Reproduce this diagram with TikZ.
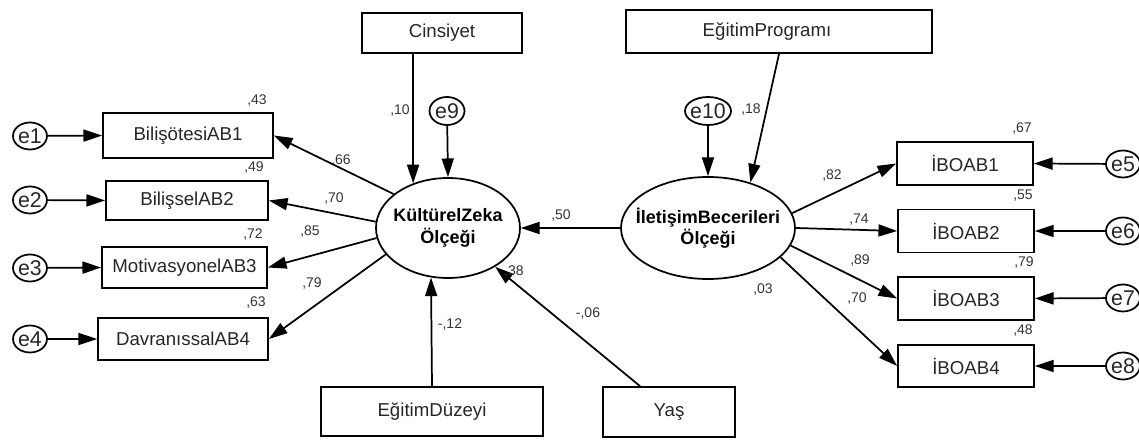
\documentclass[tikz,border=0pt]{standalone}
\usepackage{fontspec}
\setmainfont{Liberation Sans}
\usetikzlibrary{arrows.meta,shapes.geometric}
\tikzset{
  box/.style={draw, line width=1.3pt, rectangle, inner sep=0pt, font=\fontsize{14}{15}\selectfont, text=black!85},
  eps/.style={draw, line width=1.3pt, ellipse, inner sep=0pt, minimum width=25.5pt, minimum height=20.25pt},
  elab/.style={font=\fontsize{16}{17}\selectfont, inner sep=0pt, text=black!85},
  lat/.style={draw, line width=1.3pt, ellipse, inner sep=0pt},
  latlab/.style={font=\fontsize{13.5}{16}\bfseries\selectfont, align=center, inner sep=0pt},
  num/.style={font=\fontsize{10.5}{11}\selectfont, inner sep=0pt, text=black!80},
  arr/.style={line width=1.3pt, -{Triangle[length=14pt,width=9pt]}},
}
\begin{document}
\begin{tikzpicture}[x=0.75pt,y=-0.75pt]
\useasboundingbox (0,0) rectangle (1139,441);
% left indicators
\node[box, minimum width=127.5pt, minimum height=33.75pt] (b1) at (188,135.5) {BilişötesiAB1};
\node[box, minimum width=121.5pt, minimum height=29.25pt] (b2) at (187,200.5) {BilişselAB2};
\node[box, minimum width=123.75pt, minimum height=30.75pt] (b3) at (184.5,267.5) {MotivasyonelAB3};
\node[box, minimum width=127.5pt, minimum height=31.5pt] (b4) at (183,339) {DavranıssalAB4};
\node[eps, label={[elab]center:e1}] (e1) at (30,136) {};
\node[eps, label={[elab]center:e2}] (e2) at (30,200) {};
\node[eps, label={[elab]center:e3}] (e3) at (30,268) {};
\node[eps, label={[elab]center:e4}] (e4) at (30,339) {};
% right indicators
\node[box, minimum width=102pt, minimum height=32.25pt] (r1) at (965,163.5) {İBOAB1};
\node[box, minimum width=102pt, minimum height=32.25pt] (r2) at (966,231) {İBOAB2};
\node[box, minimum width=102pt, minimum height=32.25pt] (r3) at (966,298.5) {İBOAB3};
\node[box, minimum width=102pt, minimum height=31.5pt] (r4) at (966,366) {İBOAB4};
\node[eps, label={[elab]center:e5}] (e5) at (1123,164) {};
\node[eps, label={[elab]center:e6}] (e6) at (1123,231) {};
\node[eps, label={[elab]center:e7}] (e7) at (1123,298) {};
\node[eps, label={[elab]center:e8}] (e8) at (1123,366) {};
% latents
\node[lat, minimum width=108pt, minimum height=75pt, label={[latlab]center:KültürelZeka\\Ölçeği}] (KZ) at (448,228) {};
\node[lat, minimum width=130.5pt, minimum height=76.5pt, label={[latlab]center:İletişimBecerileri\\Ölçeği}] (IB) at (708,228) {};
% exogenous
\node[box, minimum width=120pt, minimum height=30pt] (Cin) at (442,33) {Cinsiyet};
\node[eps, minimum width=26.25pt, minimum height=21pt, label={[elab]center:e9}] (e9) at (447,111) {};
\node[eps, minimum width=34.5pt, minimum height=21pt, label={[elab]center:e10}] (e10) at (708,111) {};
\node[box, minimum width=229.5pt, minimum height=32.25pt] (EP) at (779,31.5) {\hspace*{-18pt}EğitimProgramı};
\node[box, minimum width=166.5pt, minimum height=36.75pt] (ED) at (432,411.5) {EğitimDüzeyi};
\node[box, minimum width=99pt, minimum height=37.5pt] (Ya) at (669,412) {Yaş};
% error arrows
\draw[arr] (e1) -- (b1.west);
\draw[arr] (e2) -- (b2.west);
\draw[arr] (e3) -- (b3.west);
\draw[arr] (e4) -- (b4.west);
\draw[arr] (e5) -- (r1.east);
\draw[arr] (e6) -- (r2.east);
\draw[arr] (e7) -- (r3.east);
\draw[arr] (e8) -- (r4.east);
% loadings
\draw[arr] (KZ.148) -- (b1.east);
\draw[arr] (KZ.175) -- (b2.east);
\draw[arr] (KZ.188) -- (b3.east);
\draw[arr] (KZ.203) -- (b4.east);
\draw[arr] (IB.10) -- (r1.west);
\draw[arr] (IB.0) -- (r2.west);
\draw[arr] (IB.-12) -- (r3.west);
\draw[arr] (IB.-22) -- (r4.west);
% structural
\draw[arr] ([xshift=-21.75pt]Cin.south) -- (KZ.128.5);
\draw[arr] (e9) -- (KZ.north);
\draw[arr] (ED.north) -- (KZ.251.8);
\draw[arr] ([xshift=-21.75pt]Ya.north) -- (KZ);
\draw[arr] (IB.west) -- (KZ.east);
\draw[arr] (EP.south) -- (IB.47);
\draw[arr] (e10) -- (IB.north);
% numbers
\node[num] (n43) at (257,101) {,43};
\node[num] (n49) at (254,168) {,49};
\node[num] (n72) at (253,235) {,72};
\node[num] (n63) at (256,303) {,63};
\node[num] (n66) at (341,161) {,66};
\node[num] (n70a) at (334,199) {,70};
\node[num] (n85) at (310,232) {,85};
\node[num] (n79a) at (312,284) {,79};
\node[num] (n10) at (400,111) {,10};
\node[num] (n12) at (450,325) {-,12};
\node[num] (n38) at (514,272) {,38};
\node[num] (n06) at (588,314) {-,06};
\node[num] (n50) at (561,216) {,50};
\node[num] (n18) at (751,110) {,18};
\node[num] (n03) at (763,290) {,03};
\node[num] (n82) at (832,176) {,82};
\node[num] (n74) at (859,220) {,74};
\node[num] (n89) at (860,261) {,89};
\node[num] (n70b) at (857,299) {,70};
\node[num] (n67) at (1022,129) {,67};
\node[num] (n55) at (1023,196) {,55};
\node[num] (n79b) at (1024,263) {,79};
\node[num] (n48) at (1023,331) {,48};
\end{tikzpicture}
\end{document}
